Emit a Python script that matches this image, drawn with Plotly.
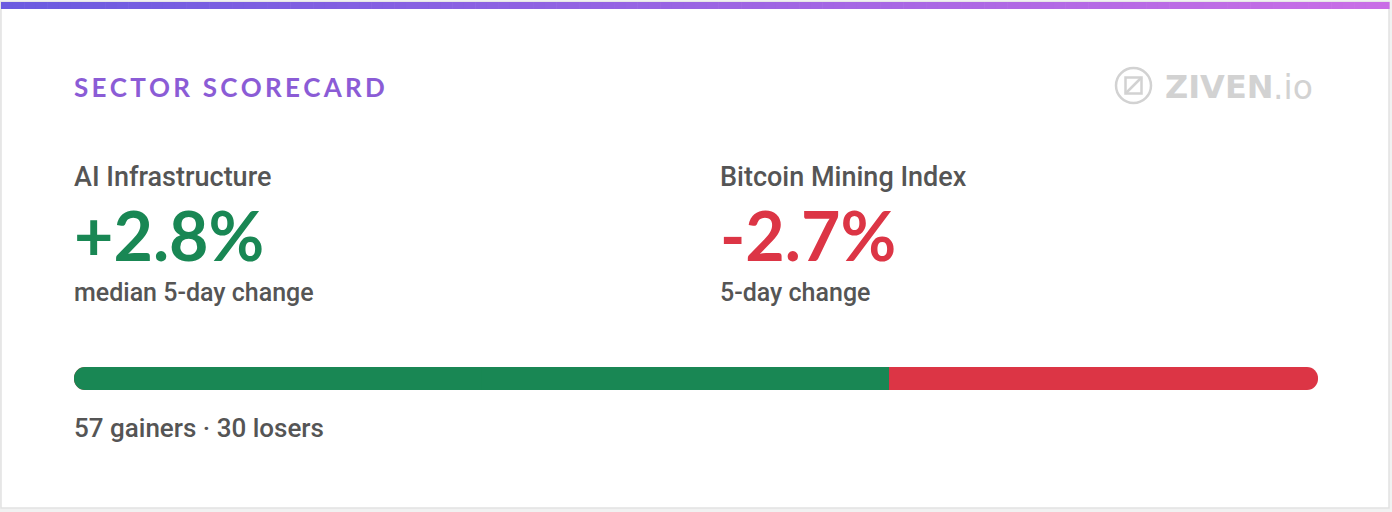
import plotly.graph_objects as go

# data of the scorecard
sectors = ["AI Infrastructure", "Bitcoin Mining Index"]
changes = [2.8, -2.7]
change_labels = ["median 5-day change", "5-day change"]
gainers = 57
losers = 30

W, H = 1392, 512
GREEN = "#198754"
RED = "#dc3545"
GRAY = "#555555"
LOGO = "#d2d2d2"


def px(x):
    return x / W


def py(y):
    return 1 - y / H


fig = go.Figure()

# breadth bar: red runs the whole length, green covers the gainers share from the left
fig.add_trace(go.Bar(y=[0], x=[gainers + losers], base=[0], orientation="h", width=1,
                     marker=dict(color=RED, cornerradius=12, line=dict(width=0)),
                     hoverinfo="skip"))
fig.add_trace(go.Bar(y=[0], x=[-gainers], base=[gainers], orientation="h", width=1,
                     marker=dict(color=GREEN, cornerradius=12, line=dict(width=0)),
                     hoverinfo="skip"))
# square piece so the green/red split stays straight
fig.add_trace(go.Bar(y=[0], x=[-gainers / 2], base=[gainers], orientation="h", width=1,
                     marker=dict(color=GREEN, cornerradius=0, line=dict(width=0)),
                     hoverinfo="skip"))

shapes = []
# card
shapes.append(dict(type="rect", xref="paper", yref="paper", x0=px(1), x1=px(1389), y0=py(508), y1=py(2),
                   fillcolor="white", line=dict(color="#e2e2e2", width=1.5), layer="below"))
# top gradient strip
c0 = (107, 91, 224)
c1 = (201, 110, 230)
n = 120
for i in range(n):
    t = i / (n - 1)
    col = "rgb(%d,%d,%d)" % tuple(round(a + (b - a) * t) for a, b in zip(c0, c1))
    x0 = 1 + i * (1388 / n)
    shapes.append(dict(type="rect", xref="paper", yref="paper", x0=px(x0), x1=px(x0 + 1388 / n + 0.6),
                       y0=py(9), y1=py(2), fillcolor=col, line=dict(width=0), layer="below"))
# logo icon
shapes.append(dict(type="circle", xref="paper", yref="paper", x0=px(1116), x1=px(1151), y0=py(103), y1=py(68),
                   line=dict(color=LOGO, width=2.5)))
shapes.append(dict(type="rect", xref="paper", yref="paper", x0=px(1125.5), x1=px(1141.5), y0=py(93.5), y1=py(77.5),
                   line=dict(color=LOGO, width=2.5)))
shapes.append(dict(type="line", xref="paper", yref="paper", x0=px(1125.5), x1=px(1141.5), y0=py(93.5), y1=py(77.5),
                   line=dict(color=LOGO, width=2.5)))

annotations = []


def label(text, x, y, size, color, family="Roboto", weight=500):
    annotations.append(dict(text=text, x=px(x), y=py(y), xref="paper", yref="paper",
                            xanchor="left", yanchor="middle", showarrow=False,
                            font=dict(family=family, size=size, color=color, weight=weight)))


label("\u2009".join("SECTOR SCORECARD"), 72, 87, 26, "#8b5cd6", family="Lato", weight=700)
label("ZIVEN", 1163, 87, 32, LOGO, family="DejaVu Sans", weight=700)
label(".io", 1271, 87, 33, LOGO, family="DejaVu Sans", weight=400)

cols = [72, 718]
for i in range(len(sectors)):
    color = GREEN if changes[i] >= 0 else RED
    label(sectors[i], cols[i], 177, 27, GRAY)
    label("%+.1f%%" % changes[i], cols[i], 234, 68, color, family="Lato", weight=700)
    label(change_labels[i], cols[i], 292, 25, GRAY)

label("%d gainers · %d losers" % (gainers, losers), 72, 428, 26, GRAY)

fig.update_layout(
    width=W, height=H,
    margin=dict(l=0, r=0, t=0, b=0),
    paper_bgcolor="#f1f1f1", plot_bgcolor="rgba(0,0,0,0)",
    barmode="overlay", showlegend=False,
    shapes=shapes, annotations=annotations,
    xaxis=dict(range=[0, gainers + losers], domain=[px(74), px(1318)], visible=False, fixedrange=True),
    yaxis=dict(range=[-0.5, 0.5], domain=[py(390), py(367)], visible=False, fixedrange=True),
)

# the page has a default 8px body margin, drop it so the card fills the window
fig.write_html("out.html", config={"displayModeBar": False},
               post_script="document.body.style.margin='0';")
